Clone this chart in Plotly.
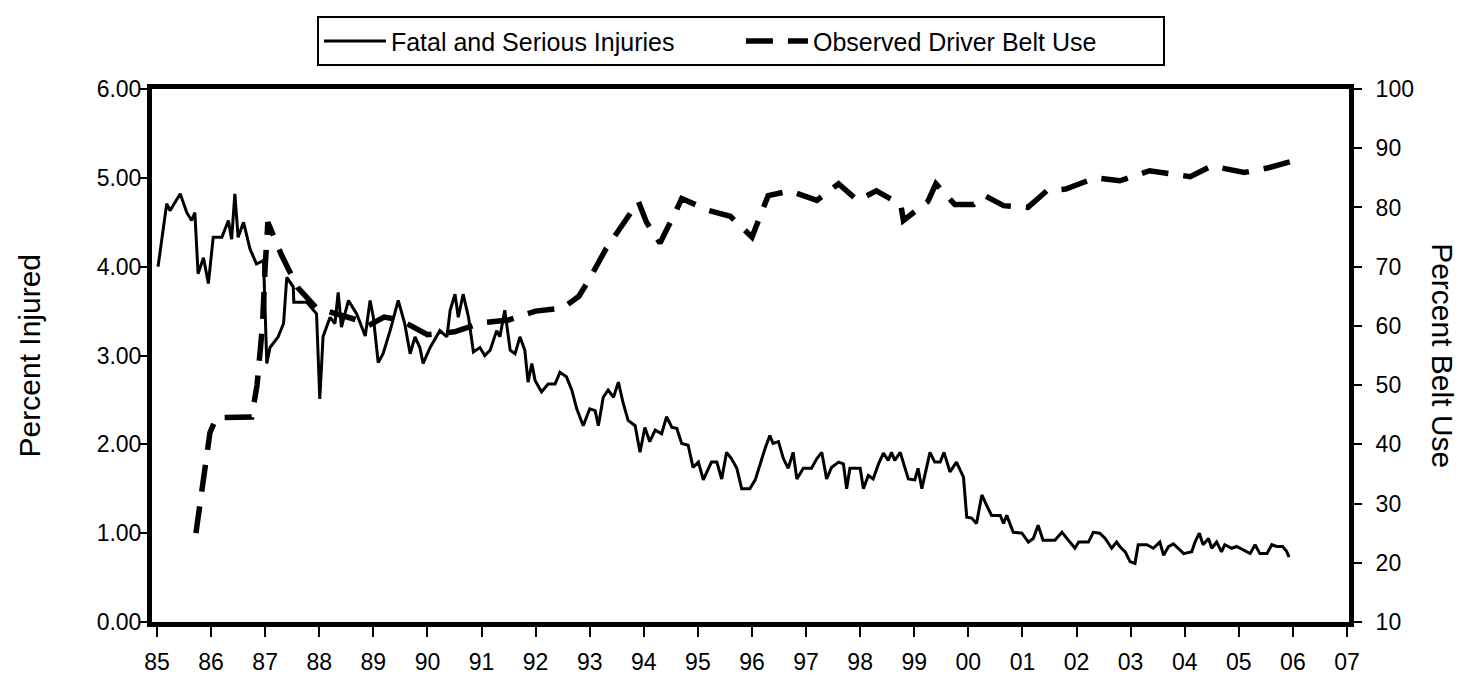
import plotly.graph_objects as go

# ---------------- data ----------------
# Fatal and Serious Injuries: (years since Jan 1985, percent injured)
inj_t = [0.02, 0.18, 0.24, 0.43, 0.55, 0.64, 0.70, 0.76, 0.86, 0.95,
         1.04, 1.20, 1.32, 1.38, 1.44, 1.50, 1.60, 1.72, 1.84, 1.97,
         2.03, 2.09, 2.24, 2.34, 2.40, 2.52, 2.53, 2.77, 2.95, 3.01,
         3.07, 3.20, 3.29, 3.35, 3.41, 3.54, 3.69, 3.85, 3.94, 4.00,
         4.09, 4.18, 4.31, 4.46, 4.58, 4.68, 4.77, 4.86, 4.92, 5.05,
         5.23, 5.36, 5.42, 5.51, 5.57, 5.66, 5.76, 5.85, 5.97, 6.06,
         6.16, 6.28, 6.34, 6.43, 6.53, 6.62, 6.71, 6.80, 6.86, 6.93,
         6.99, 7.11, 7.23, 7.36, 7.45, 7.57, 7.67, 7.76, 7.88, 8.00,
         8.10, 8.16, 8.25, 8.34, 8.44, 8.53, 8.62, 8.71, 8.84, 8.93,
         9.02, 9.11, 9.21, 9.33, 9.42, 9.52, 9.61, 9.70, 9.82, 9.91,
         10.01, 10.10, 10.25, 10.35, 10.44, 10.53, 10.62, 10.72, 10.81, 10.96,
         11.06, 11.15, 11.24, 11.33, 11.39, 11.49, 11.58, 11.67, 11.76, 11.83,
         11.95, 12.10, 12.20, 12.29, 12.38, 12.47, 12.60, 12.69, 12.75, 12.81,
         13.00, 13.06, 13.15, 13.24, 13.34, 13.43, 13.52, 13.58, 13.64, 13.74,
         13.80, 13.89, 14.01, 14.07, 14.14, 14.20, 14.29, 14.38, 14.48, 14.55,
         14.66, 14.78, 14.91, 14.97, 15.06, 15.15, 15.25, 15.34, 15.43, 15.59,
         15.65, 15.71, 15.83, 15.99, 16.11, 16.20, 16.29, 16.38, 16.60, 16.73,
         16.82, 16.97, 17.04, 17.22, 17.31, 17.43, 17.53, 17.65, 17.74, 17.80,
         17.90, 17.99, 18.08, 18.14, 18.30, 18.42, 18.54, 18.61, 18.70, 18.79,
         18.88, 18.98, 19.13, 19.19, 19.27, 19.34, 19.44, 19.50, 19.59, 19.68,
         19.74, 19.87, 19.96, 20.08, 20.21, 20.30, 20.39, 20.52, 20.61, 20.70,
         20.81, 20.88, 20.93]
inj_pct = [4.00, 4.71, 4.63, 4.82, 4.61, 4.52, 4.61, 3.92, 4.10, 3.81,
           4.33, 4.33, 4.52, 4.31, 4.82, 4.33, 4.50, 4.20, 4.03, 4.07,
           2.91, 3.09, 3.21, 3.36, 3.88, 3.77, 3.60, 3.60, 3.47, 2.51,
           3.21, 3.43, 3.36, 3.71, 3.32, 3.62, 3.47, 3.22, 3.62, 3.43,
           2.92, 3.02, 3.28, 3.62, 3.36, 3.02, 3.21, 3.09, 2.91, 3.09,
           3.28, 3.21, 3.51, 3.69, 3.43, 3.69, 3.43, 3.04, 3.09, 3.00,
           3.06, 3.28, 3.21, 3.51, 3.06, 3.02, 3.21, 3.06, 2.70, 2.91,
           2.72, 2.59, 2.68, 2.68, 2.81, 2.76, 2.61, 2.40, 2.21, 2.40,
           2.38, 2.21, 2.53, 2.61, 2.53, 2.70, 2.46, 2.27, 2.21, 1.91,
           2.19, 2.03, 2.16, 2.12, 2.31, 2.19, 2.18, 2.01, 1.99, 1.74,
           1.80, 1.60, 1.80, 1.80, 1.61, 1.91, 1.84, 1.73, 1.50, 1.50,
           1.60, 1.78, 1.95, 2.10, 2.01, 2.03, 1.84, 1.73, 1.91, 1.61,
           1.73, 1.73, 1.84, 1.91, 1.61, 1.74, 1.80, 1.78, 1.50, 1.73,
           1.73, 1.50, 1.65, 1.61, 1.78, 1.90, 1.82, 1.91, 1.82, 1.91,
           1.80, 1.61, 1.60, 1.73, 1.50, 1.67, 1.91, 1.80, 1.80, 1.91,
           1.69, 1.80, 1.63, 1.18, 1.17, 1.11, 1.43, 1.31, 1.20, 1.20,
           1.11, 1.20, 1.01, 1.00, 0.90, 0.94, 1.09, 0.92, 0.92, 1.01,
           0.94, 0.83, 0.90, 0.90, 1.01, 1.00, 0.94, 0.83, 0.90, 0.85,
           0.79, 0.68, 0.66, 0.87, 0.87, 0.83, 0.90, 0.75, 0.85, 0.88,
           0.83, 0.77, 0.79, 0.90, 1.00, 0.87, 0.94, 0.83, 0.90, 0.79,
           0.87, 0.83, 0.85, 0.81, 0.77, 0.87, 0.77, 0.77, 0.87, 0.85,
           0.85, 0.80, 0.73]

# Observed Driver Belt Use: (years since Jan 1985, percent belt use)
belt_t = [0.72, 0.85, 0.98, 1.10, 1.30, 1.75, 1.85, 1.95, 2.00, 2.05,
          2.30, 2.60, 2.95, 3.30, 3.70, 3.90, 4.20, 4.50, 5.00, 5.50,
          6.00, 6.50, 7.00, 7.50, 7.80, 8.00, 8.30, 8.60, 8.90, 9.05,
          9.30, 9.60, 9.70, 10.20, 10.60, 11.00, 11.30, 11.70, 12.20, 12.60,
          12.95, 13.30, 13.75, 13.80, 14.25, 14.40, 14.75, 15.10, 15.30, 15.65,
          16.10, 16.45, 16.80, 17.35, 17.80, 18.35, 18.60, 19.10, 19.50, 20.10,
          20.55, 21.13]
belt_pct = [25.0, 34.0, 42.0, 44.5, 44.6, 44.6, 50.0, 60.0, 70.0, 77.5,
            72.0, 66.5, 63.0, 62.0, 61.0, 60.0, 61.5, 61.0, 58.5, 59.0,
            60.5, 61.0, 62.5, 63.0, 65.0, 68.0, 73.0, 77.0, 81.0, 77.5,
            74.0, 79.5, 81.5, 79.5, 78.5, 75.0, 82.0, 82.8, 81.2, 84.0,
            81.2, 82.8, 80.5, 77.8, 81.0, 84.0, 80.5, 80.5, 82.0, 80.3,
            80.0, 82.8, 83.1, 85.0, 84.5, 86.2, 85.8, 85.2, 87.0, 85.9,
            86.7, 88.2]

start_year = 1985
year_ticks = list(range(1985, 2008))
year_labels = [str(y)[-2:] for y in year_ticks]
left_ticks = [0, 1, 2, 3, 4, 5, 6]
right_ticks = [10, 20, 30, 40, 50, 60, 70, 80, 90, 100]

inj_x = [start_year + t for t in inj_t]
belt_x = [start_year + t for t in belt_t]

FONT = "Liberation Sans, Arial, sans-serif"

fig = go.Figure()
fig.add_trace(go.Scatter(
    x=inj_x, y=inj_pct, mode="lines", name="Fatal and Serious Injuries",
    line=dict(color="black", width=3), yaxis="y"))
fig.add_trace(go.Scatter(
    x=belt_x, y=belt_pct, mode="lines", name="Observed Driver Belt Use",
    line=dict(color="black", width=5.5, dash="27px,15px"), yaxis="y2"))

# the page body adds an 8px offset, so the figure is 8px smaller
fig.update_layout(
    width=1458, height=686,
    paper_bgcolor="white", plot_bgcolor="white",
    margin=dict(l=144, r=117, t=81, b=72, autoexpand=False),
    font=dict(family=FONT, color="black", size=23),
    showlegend=True,
    legend=dict(
        orientation="h", xref="container", yref="container",
        x=0.5027, xanchor="center", y=0.988, yanchor="top",
        bordercolor="black", borderwidth=2, bgcolor="white",
        font=dict(family=FONT, size=25, color="black"),
        entrywidth=345, itemwidth=62,
    ),
    xaxis=dict(
        range=[1984.908, 2007.037],
        tickmode="array", tickvals=year_ticks, ticktext=year_labels,
        ticks="outside", ticklen=10, tickwidth=2, tickcolor="black",
        ticklabelstandoff=5,
        showline=True, linewidth=5, linecolor="black", mirror=True,
        showgrid=False, zeroline=False,
        tickfont=dict(family=FONT, size=23, color="black"),
    ),
    yaxis=dict(
        range=[0, 6], tickmode="array", tickvals=left_ticks,
        tickformat=".2f",
        ticks="outside", ticklen=7, tickwidth=2, tickcolor="black",
        ticklabelstandoff=-6,
        showline=True, linewidth=5, linecolor="black",
        showgrid=False, zeroline=False,
        tickfont=dict(family=FONT, size=23, color="black"),
    ),
    yaxis2=dict(
        range=[10, 100], tickmode="array", tickvals=right_ticks,
        overlaying="y", side="right",
        ticks="outside", ticklen=8, tickwidth=2, tickcolor="black",
        ticklabelstandoff=9,
        showline=True, linewidth=5, linecolor="black",
        showgrid=False, zeroline=False,
        tickfont=dict(family=FONT, size=23, color="black"),
    ),
    annotations=[
        dict(text="Percent Injured", xref="paper", yref="paper",
             x=-0.102, y=0.5, xanchor="center", yanchor="middle",
             textangle=-90, showarrow=False,
             font=dict(family=FONT, size=30, color="black")),
        dict(text="Percent Belt Use", xref="paper", yref="paper",
             x=1.078, y=0.5, xanchor="center", yanchor="middle",
             textangle=90, showarrow=False,
             font=dict(family=FONT, size=30, color="black")),
    ],
)

fig.write_html("out.html")
